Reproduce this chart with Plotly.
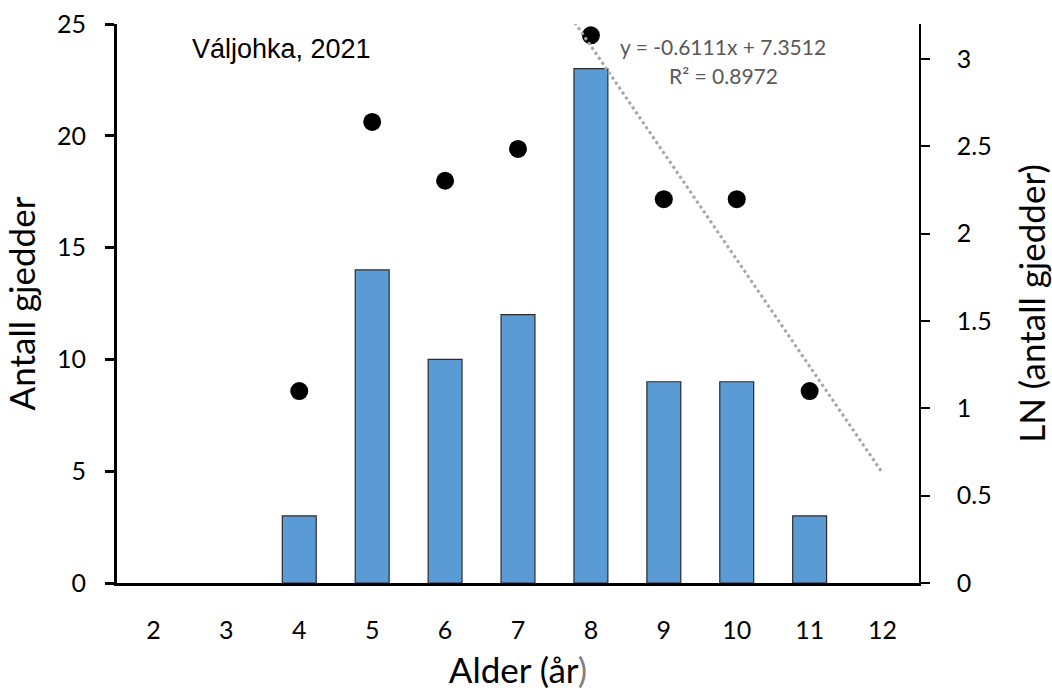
import plotly.graph_objects as go

ages = [2, 3, 4, 5, 6, 7, 8, 9, 10, 11, 12]
counts = [0, 0, 3, 14, 10, 12, 23, 9, 9, 3, 0]
ln_ages = [4, 5, 6, 7, 8, 9, 10, 11]
ln_counts = [1.0986, 2.6391, 2.3026, 2.4849, 3.1355, 2.1972, 2.1972, 1.0986]
trend_slope = -0.6111
trend_intercept = 7.3512
trend_ages = [7.5, 12]  # trendline drawn over this age span (Excel index = age - 1)

trend_y = [trend_slope * (a - 1) + trend_intercept for a in trend_ages]
bar_y = [c if c > 0 else None for c in counts]

TICKFONT = dict(family="Lato", size=25, color="black")
TITLEFONT = dict(family="Lato", size=35, color="black")

fig = go.Figure()
fig.add_trace(go.Bar(
    x=ages, y=bar_y,
    marker=dict(color="#5B9BD5", line=dict(color="#2b2b2b", width=1.2)),
    yaxis="y", showlegend=False,
))
fig.add_trace(go.Scatter(
    x=ln_ages, y=ln_counts, mode="markers",
    marker=dict(color="black", size=18),
    yaxis="y2", showlegend=False,
))
fig.add_trace(go.Scatter(
    x=trend_ages, y=trend_y, mode="lines",
    line=dict(color="#A6A6A6", width=3, dash="dot"),
    yaxis="y2", showlegend=False,
))

fig.update_layout(
    width=1052, height=690,
    margin=dict(l=117, r=133, t=24, b=107),
    plot_bgcolor="white", paper_bgcolor="white",
    bargap=0.535,
    xaxis=dict(
        range=[1.5, 12.5], tickmode="array", tickvals=ages,
        ticktext=[str(a) for a in ages], automargin=False,
        showgrid=False, zeroline=False, showline=True, linecolor="black", linewidth=3,
        ticks="", tickfont=TICKFONT, ticklabelstandoff=23,
        title=dict(text="Alder (år<span style='color:#7f7f7f'>)</span>", font=TITLEFONT, standoff=20),
    ),
    yaxis=dict(
        range=[0, 25], tickvals=[0, 5, 10, 15, 20, 25], automargin=False,
        showgrid=False, zeroline=False, showline=True, linecolor="black", linewidth=3,
        ticks="outside", ticklen=9, tickwidth=3, tickcolor="black",
        tickfont=TICKFONT, ticklabelstandoff=14,
        title=dict(text="Antall gjedder", font=TITLEFONT, standoff=16),
    ),
    yaxis2=dict(
        range=[0, 3.2], tickvals=[0, 0.5, 1, 1.5, 2, 2.5, 3],
        ticktext=["0", "0.5", "1", "1.5", "2", "2.5", "3"], automargin=False,
        overlaying="y", side="right",
        showgrid=False, zeroline=False, showline=True, linecolor="black", linewidth=1.5,
        ticks="outside", ticklen=9, tickwidth=1.5, tickcolor="black",
        tickfont=TICKFONT, ticklabelstandoff=22,
        title=dict(text="LN (antall gjedder)", font=TITLEFONT, standoff=30),
    ),
    annotations=[
        dict(text="Váljohka, 2021", xref="paper", yref="paper", x=0.2045, y=0.955,
             showarrow=False, font=dict(family="Liberation Sans", size=27, color="black"),
             xanchor="center", yanchor="middle"),
        dict(text="y = -0.6111x + 7.3512", xref="paper", yref="paper", x=0.756, y=0.959,
             showarrow=False, font=dict(family="Lato", size=21, color="#595959"),
             xanchor="center", yanchor="middle"),
        dict(text="R² = 0.8972", xref="paper", yref="paper", x=0.756, y=0.907,
             showarrow=False, font=dict(family="Lato", size=21, color="#595959"),
             xanchor="center", yanchor="middle"),
    ],
)

fig.write_html("out.html")
